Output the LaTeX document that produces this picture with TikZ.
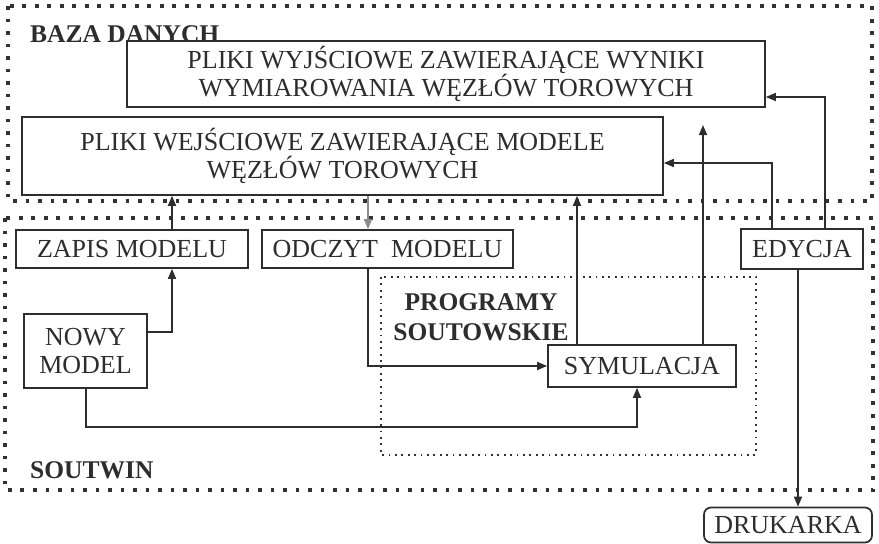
\documentclass[tikz,border=0pt]{standalone}
\usepackage{fontspec}
\setmainfont{Liberation Serif}
\usetikzlibrary{arrows.meta}
\definecolor{ink}{RGB}{45,45,45}
\definecolor{faint}{RGB}{140,140,140}
\definecolor{dotc}{RGB}{50,50,50}
\tikzset{
  box/.style={draw=ink, line width=1.7pt, inner sep=0pt, align=center, fill=white},
  arr/.style={draw=ink, line width=1.7pt, -{Triangle[length=10pt,width=8pt]}},
  bigdots/.style={draw=dotc, line width=3.6pt, dash pattern=on 3.6pt off 8.9pt},
  smalldots/.style={draw=dotc, line width=1.8pt, dash pattern=on 1.8pt off 4.6pt},
  grouptitle/.style={font=\fontsize{25.5}{30}\selectfont\bfseries, inner sep=0pt}
}
\begin{document}
\begin{tikzpicture}[x=1pt, y=-1pt, font=\fontsize{26}{28}\selectfont, text=ink]
\useasboundingbox (0,0) rectangle (879,544);

% group frames
\draw[bigdots] (8,6) rectangle (872,201);
\draw[bigdots] (5,218) rectangle (873,490);
\draw[smalldots] (381,277) rectangle (756,455);

% group titles
\node[grouptitle, anchor=base west] (tbaza) at (30,42) {BAZA DANYCH};
\node[grouptitle, anchor=base west] (tsout) at (30,478) {SOUTWIN};
\node[grouptitle, align=center, anchor=center] (tprog) at (481,317) {PROGRAMY\\SOUTOWSKIE};

% boxes
\node[box, minimum width=638pt, minimum height=66pt] (out) at (446,74)
  {PLIKI WYJŚCIOWE ZAWIERAJĄCE WYNIKI\\WYMIAROWANIA WĘZŁÓW TOROWYCH};
\node[box, minimum width=641pt, minimum height=78pt] (in) at (342.5,156)
  {PLIKI WEJŚCIOWE ZAWIERAJĄCE MODELE\\WĘZŁÓW TOROWYCH};
\node[box, minimum width=232pt, minimum height=38pt] (zapis) at (132,249) {ZAPIS MODELU};
\node[box, minimum width=251pt, minimum height=38pt] (odczyt) at (387.5,249) {ODCZYT\ \ MODELU};
\node[box, minimum width=122pt, minimum height=40pt] (edycja) at (802,249) {EDYCJA};
\node[box, minimum width=123pt, minimum height=74pt] (nowy) at (85.5,351) {NOWY\\MODEL};
\node[box, minimum width=188pt, minimum height=42pt] (sym) at (642,366) {SYMULACJA};
\node[box, rounded corners=7pt, minimum width=168pt, minimum height=35pt] (druk) at (788,525) {DRUKARKA};

% routing coordinates
\coordinate (cZ) at (172,0);
\coordinate (cO) at (368,0);
\coordinate (cS1) at (577,0);
\coordinate (cS2) at (703,0);
\coordinate (cS3) at (637,0);
\coordinate (cE1) at (772,0);
\coordinate (cE2) at (825,0);
\coordinate (cD) at (798,0);
\coordinate (cN) at (86,0);
\coordinate (yN) at (0,332);
\coordinate (yB) at (0,427);
\coordinate (yE1) at (0,163);
\coordinate (yE2) at (0,97);
\coordinate (tipS2) at (703,125);

% connectors
\draw[arr] (zapis.north -| cZ) -- (in.south -| cZ);
\draw[arr] (nowy.east |- yN) -| (zapis.south -| cZ);
\draw[arr, draw=faint] (in.south -| cO) -- (odczyt.north -| cO);
\draw[arr] (odczyt.south -| cO) |- (sym.west);
\draw[arr] (nowy.south -| cN) |- (cS3 |- yB) -- (sym.south -| cS3);
\draw[arr] (sym.north -| cS1) -- (in.south -| cS1);
\draw[arr] (sym.north -| cS2) -- (tipS2);
\draw[arr] (edycja.north -| cE1) |- (in.east |- yE1);
\draw[arr] (edycja.north -| cE2) |- (out.east |- yE2);
\draw[arr] (edycja.south -| cD) -- (druk.north -| cD);
\end{tikzpicture}
\end{document}
